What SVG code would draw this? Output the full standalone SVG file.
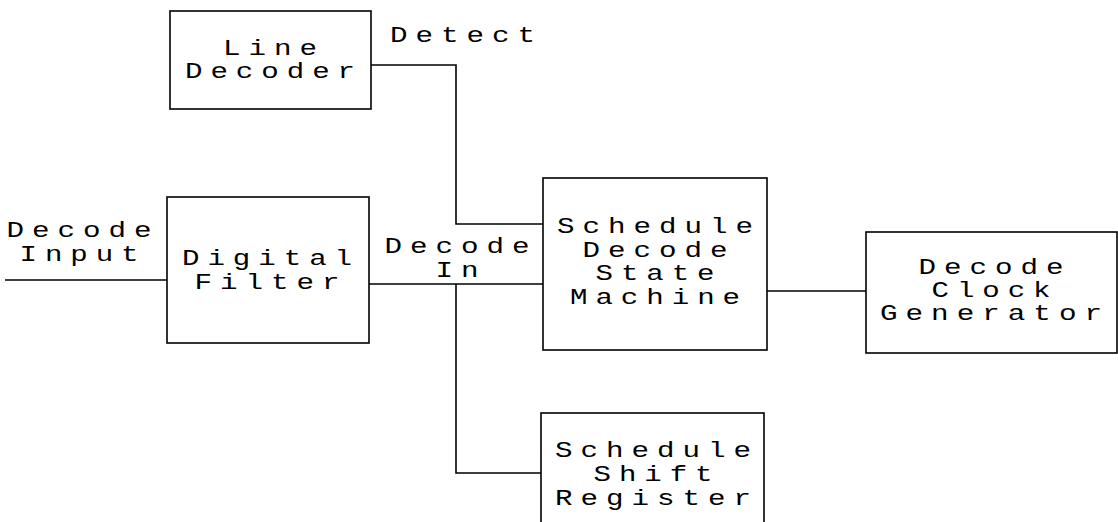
<svg xmlns="http://www.w3.org/2000/svg" width="1118" height="522" viewBox="0 0 1118 522">
  <style>
    .box { fill: #ffffff; stroke: #000000; stroke-width: 1.6; }
    .wire { fill: none; stroke: #000000; stroke-width: 1.6; }
    text { font-family: "Liberation Mono", "DejaVu Sans Mono", monospace; font-size: 22px; letter-spacing: 6px; fill: #000000; }
    .c { text-anchor: middle; }
  </style>
  <rect width="1118" height="522" fill="#ffffff"/>

  <!-- signal wiring between blocks -->
  <g id="connectors">
    <polyline class="wire" points="5,280 167,280"/>
    <polyline class="wire" points="371,65 456,65 456,224 543,224"/>
    <polyline class="wire" points="369,284 543,284"/>
    <polyline class="wire" points="456,284 456,473 541,473"/>
    <polyline class="wire" points="767,291 866,291"/>
  </g>

  <!-- free-standing signal labels -->
  <g id="labels">
    <text x="390" y="42" textLength="153" lengthAdjust="spacingAndGlyphs">Detect</text>
    <text class="c" x="83" y="237" textLength="153" lengthAdjust="spacingAndGlyphs">Decode</text>
    <text class="c" x="83" y="261" textLength="127" lengthAdjust="spacingAndGlyphs">Input</text>
    <text class="c" x="461" y="253" textLength="153" lengthAdjust="spacingAndGlyphs">Decode</text>
    <text class="c" x="461" y="277" textLength="51" lengthAdjust="spacingAndGlyphs">In</text>
  </g>

  <g id="line-decoder">
    <rect class="box" x="170" y="11" width="201" height="98"/>
    <text class="c" x="274" y="55" textLength="102" lengthAdjust="spacingAndGlyphs">Line</text>
    <text class="c" x="274" y="78" textLength="178" lengthAdjust="spacingAndGlyphs">Decoder</text>
  </g>

  <g id="digital-filter">
    <rect class="box" x="167" y="197" width="202" height="146"/>
    <text class="c" x="271" y="265" textLength="178" lengthAdjust="spacingAndGlyphs">Digital</text>
    <text class="c" x="271" y="289" textLength="153" lengthAdjust="spacingAndGlyphs">Filter</text>
  </g>

  <g id="schedule-decode-state-machine">
    <rect class="box" x="543" y="178" width="224" height="172"/>
    <text class="c" x="659" y="233" textLength="204" lengthAdjust="spacingAndGlyphs">Schedule</text>
    <text class="c" x="659" y="257" textLength="153" lengthAdjust="spacingAndGlyphs">Decode</text>
    <text class="c" x="659" y="280" textLength="127" lengthAdjust="spacingAndGlyphs">State</text>
    <text class="c" x="659" y="304" textLength="178" lengthAdjust="spacingAndGlyphs">Machine</text>
  </g>

  <g id="decode-clock-generator">
    <rect class="box" x="866" y="232" width="251" height="121"/>
    <text class="c" x="995" y="274" textLength="153" lengthAdjust="spacingAndGlyphs">Decode</text>
    <text class="c" x="995" y="297" textLength="127" lengthAdjust="spacingAndGlyphs">Clock</text>
    <text class="c" x="995" y="320" textLength="230" lengthAdjust="spacingAndGlyphs">Generator</text>
  </g>

  <g id="schedule-shift-register">
    <rect class="box" x="541" y="413" width="223" height="115"/>
    <text class="c" x="657" y="457" textLength="204" lengthAdjust="spacingAndGlyphs">Schedule</text>
    <text class="c" x="657" y="481" textLength="127" lengthAdjust="spacingAndGlyphs">Shift</text>
    <text class="c" x="657" y="505" textLength="204" lengthAdjust="spacingAndGlyphs">Register</text>
  </g>
</svg>
